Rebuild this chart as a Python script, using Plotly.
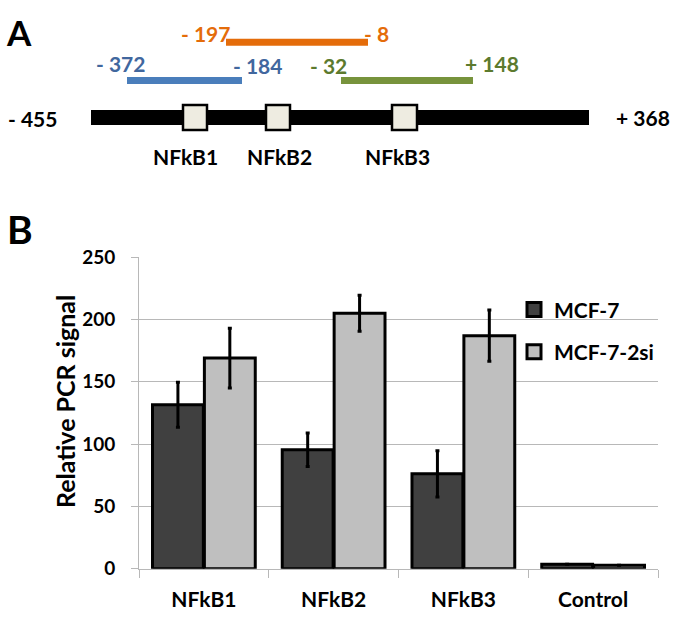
import plotly.graph_objects as go

W, H = 675, 624
FONT = "Lato"

# ---------------- Panel B data ----------------
categories = ["NFkB1", "NFkB2", "NFkB3", "Control"]
mcf7 = [131.5, 95.4, 76.1, 3.6]
mcf7_err = [18.0, 13.5, 18.6, 0]
mcf7_2si = [169.0, 205.0, 187.0, 2.8]
mcf7_2si_err = [24.0, 14.5, 20.5, 0]
y_ticks = [0, 50, 100, 150, 200, 250]
series_names = ["MCF-7", "MCF-7-2si"]
series_colors = ["#404040", "#bfbfbf"]

# ---------------- Panel A (schematic, drawn in diagram units) ----------------
amp_labels_left = ["- 372", "- 197", "- 32"]
amp_labels_right = ["- 184", "- 8", "+ 148"]
amp_start = [127, 226, 341]
amp_end = [242, 368, 473]
amp_level = [71, 31.5, 71]
amp_colors = ["#4a7ebb", "#e46c0a", "#77933c"]
amp_text_colors = ["#41679e", "#e46c0a", "#5c7a2e"]
amp_left_text_x = [94, 232, 308]
amp_left_anchor = ["left", "right", "left"]
amp_left_text_y = [53, 22, 56]
amp_right_text_x = [231, 362, 463]
amp_right_text_y = [56, 22, 53]

locus_start, locus_end = 91, 589
locus_level = 109.5
locus_labels = ["- 455", "+ 368"]
site_names = ["NFkB1", "NFkB2", "NFkB3"]
site_left = [183, 266, 392]
site_right = [207, 290, 417]
site_label_x = [185.5, 279.5, 397.5]

fig = go.Figure()

for name, vals, errs, col in zip(series_names, [mcf7, mcf7_2si], [mcf7_err, mcf7_2si_err], series_colors):
    fig.add_trace(go.Bar(
        x=categories, y=vals, name=name,
        marker=dict(color=col, line=dict(color="black", width=3)),
        error_y=dict(type="data", array=errs, visible=True, color="black", thickness=3, width=2),
        showlegend=False, xaxis="x", yaxis="y",
    ))
    fig.add_trace(go.Scatter(
        x=[None], y=[None], mode="markers", name=name,
        marker=dict(symbol="square", size=14, color=col, line=dict(color="black", width=3)),
        legendgroup=name, xaxis="x", yaxis="y",
    ))

shapes = []
shapes.append(dict(type="line", xref="x2", yref="y2", x0=locus_start, x1=locus_end,
                   y0=locus_level, y1=locus_level, line=dict(color="black", width=15)))
for s, e, lv, c in zip(amp_start, amp_end, amp_level, amp_colors):
    shapes.append(dict(type="line", xref="x2", yref="y2", x0=s, x1=e, y0=lv, y1=lv,
                       line=dict(color=c, width=7)))
for l, r in zip(site_left, site_right):
    shapes.append(dict(type="rect", xref="x2", yref="y2", x0=l, x1=r,
                       y0=locus_level - 13, y1=locus_level + 13,
                       fillcolor="#eeece1", line=dict(color="black", width=2.5)))

ann = []
def txt(x, y, t, size, color="black", anchor="left", xref="x2", yref="y2", angle=0):
    ann.append(dict(x=x, y=y, xref=xref, yref=yref, text=t, showarrow=False,
                    xanchor=anchor, yanchor="middle", textangle=angle,
                    font=dict(family=FONT, size=size, color=color, weight="bold")))

txt(4, 21, "A", 35)
txt(5, 225, "B", 39)
for i in range(3):
    txt(amp_left_text_x[i], amp_left_text_y[i], amp_labels_left[i], 21, amp_text_colors[i], amp_left_anchor[i])
    txt(amp_right_text_x[i], amp_right_text_y[i], amp_labels_right[i], 21, amp_text_colors[i], "left")
txt(6, 111, locus_labels[0], 21)
txt(614, 110, locus_labels[1], 21)
for nm, x in zip(site_names, site_label_x):
    txt(x, 150, nm, 21, anchor="center")
txt(65 / W, 1 - 405 / H, "Relative PCR signal", 25, xref="paper", yref="paper", anchor="center", angle=-90)

grid = "#b8b8b8"
fig.update_layout(
    width=W, height=H, margin=dict(l=0, r=0, t=0, b=0),
    paper_bgcolor="white", plot_bgcolor="rgba(0,0,0,0)",
    barmode="group", bargap=0.2, bargroupgap=0.02,
    font=dict(family=FONT, color="black"),
    xaxis=dict(domain=[139 / W, 658 / W], anchor="y", type="category",
               showline=True, linecolor=grid, linewidth=1,
               ticks="outside", ticklen=8, tickcolor=grid, tickson="boundaries",
               ticklabelstandoff=12,
               tickfont=dict(family=FONT, size=21, weight="bold"), showgrid=False),
    yaxis=dict(domain=[(H - 578) / H, (H - 254.5) / H], anchor="x", range=[0, 250],
               tickvals=y_ticks, showgrid=True, gridcolor=grid, gridwidth=1,
               showline=True, linecolor=grid, linewidth=1, zeroline=False,
               ticks="outside", ticklen=7, tickcolor=grid, ticklabelstandoff=12,
               tickfont=dict(family=FONT, size=19, weight="bold")),
    xaxis2=dict(domain=[0, 1], anchor="y2", range=[0, W], visible=False, fixedrange=True),
    yaxis2=dict(domain=[0, 1], anchor="x2", range=[H, 0], visible=False, fixedrange=True),
    shapes=shapes, annotations=ann,
    showlegend=True,
    legend=dict(x=514 / W, y=1 - 288 / H, xanchor="left", yanchor="top",
                bgcolor="rgba(0,0,0,0)", tracegroupgap=12,
                font=dict(family=FONT, size=21, weight="bold")),
)

fig.write_html("out.html", config={"displayModeBar": False},
               post_script="document.body.style.margin='0';document.body.style.overflow='hidden';")
